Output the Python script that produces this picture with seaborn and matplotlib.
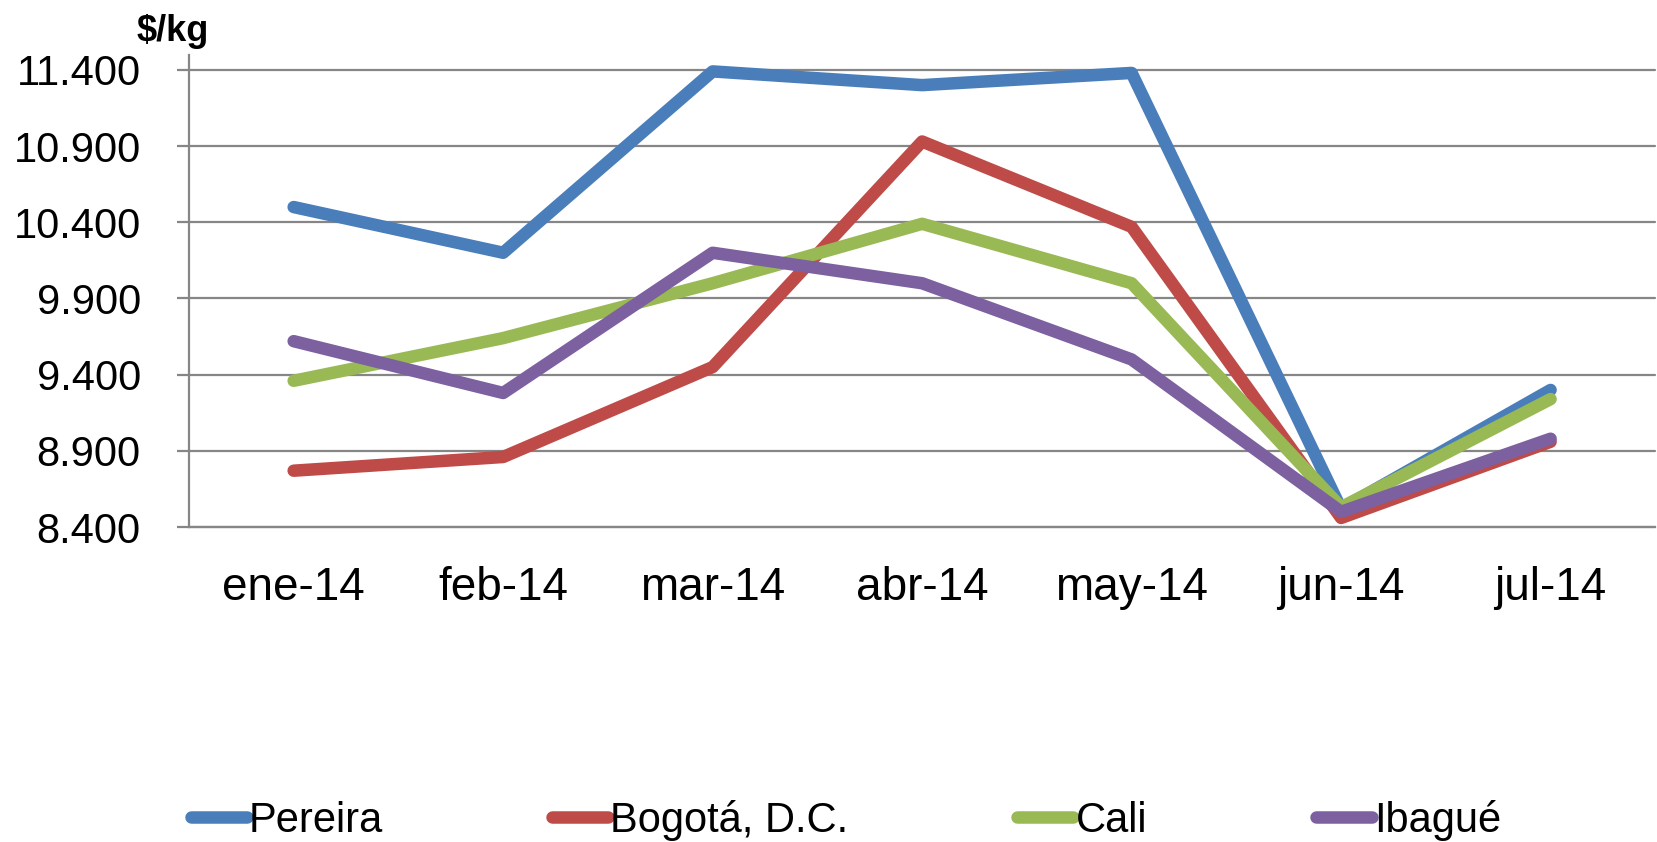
import pandas as pd
import matplotlib.pyplot as plt
import seaborn as sns
from matplotlib.ticker import FuncFormatter

# Data ($/kg)
months = ["ene-14", "feb-14", "mar-14", "abr-14", "may-14", "jun-14", "jul-14"]
pereira = [10500, 10200, 11390, 11300, 11380, 8520, 9300]
bogota = [8770, 8860, 9450, 10930, 10370, 8460, 8960]
cali = [9360, 9640, 10000, 10390, 10000, 8530, 9240]
ibague = [9620, 9280, 10200, 10000, 9500, 8500, 8980]

cities = ["Pereira", "Bogotá, D.C.", "Cali", "Ibagué"]
colors = ["#4A7EBB", "#BE4B48", "#98B954", "#7D60A0"]

df = pd.DataFrame({
    "mes": months * 4,
    "ciudad": sum([[c] * len(months) for c in cities], []),
    "precio": pereira + bogota + cali + ibague,
})

sns.set_style("white")
plt.rcParams['font.family'] = ['Liberation Sans', 'DejaVu Sans']
plt.rcParams['text.color'] = 'black'

fig = plt.figure(figsize=(16.57, 8.42), dpi=100)
ax = fig.add_axes([0.114, 0.374, 0.885, 0.543])

sns.lineplot(data=df, x="mes", y="precio", hue="ciudad", hue_order=cities,
             palette=colors, linewidth=9, sort=False, ax=ax, legend=True)
for ln in ax.lines:
    ln.set_solid_capstyle('round')
    ln.set_solid_joinstyle('round')
    ln.set_clip_on(False)

ax.set_xlim(-0.5, 6.5)
ax.set_ylim(8400, 11400)
ax.set_yticks(range(8400, 11401, 500))
ax.yaxis.set_major_formatter(FuncFormatter(lambda v, p: f"{int(v):,}".replace(",", ".")))
ax.grid(axis='y', color='#868686', linewidth=1.6)
for gl in ax.get_ygridlines():
    gl.set_clip_on(False)
ax.set_axisbelow(True)
ax.set_xlabel("")
ax.set_ylabel("")

for s in ['top', 'right']:
    ax.spines[s].set_visible(False)
for s in ['left', 'bottom']:
    ax.spines[s].set_color('#868686')
    ax.spines[s].set_linewidth(1.6)
ax.spines['left'].set_bounds(8400, 11500)

ax.tick_params(axis='y', labelsize=30, length=8.6, width=1.6, color='#868686',
               labelcolor='black', pad=26, left=True)
ax.tick_params(axis='x', labelsize=33, length=0, pad=28, labelcolor='black')

fig.text(0.1045, 0.963, "$/kg", fontsize=26, fontweight='bold', ha='center', va='center')

handles, labels = ax.get_legend_handles_labels()
ax.get_legend().remove()
leg = fig.legend(handles, labels, loc='center left', bbox_to_anchor=(0.105, 0.026), ncol=4,
                 frameon=False, fontsize=30, handlelength=1.35, handletextpad=0.05,
                 columnspacing=4.05, borderaxespad=0)
for t in leg.get_texts():
    t.set_color('black')

fig.savefig("out.png", dpi=100)
